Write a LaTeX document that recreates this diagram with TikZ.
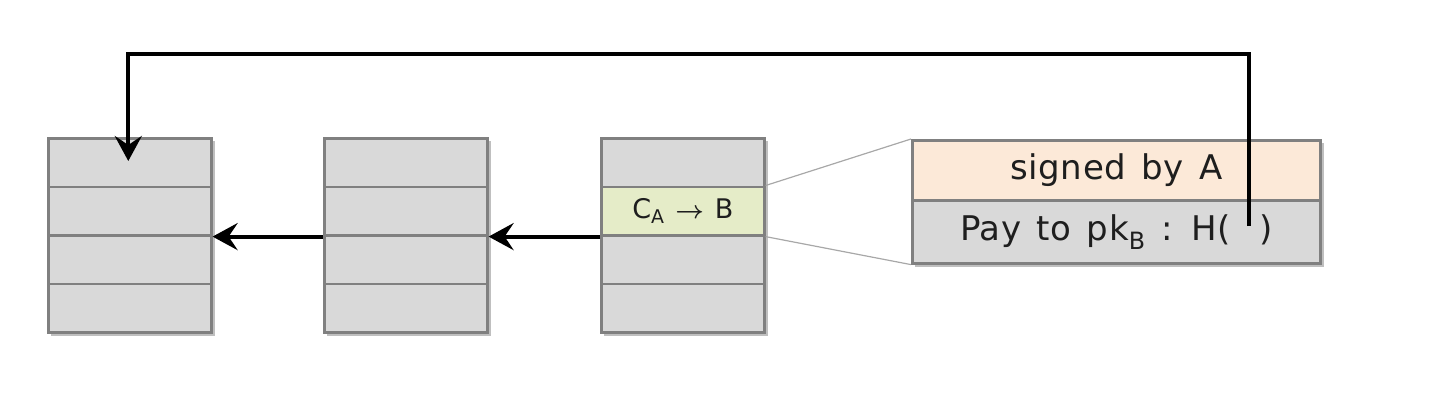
\documentclass[tikz,border=0pt]{standalone}
\usepackage{fontspec}
\setmainfont{DejaVu Sans}
\newfontfamily\trackfam[LetterSpace=2]{DejaVu Sans}
\usetikzlibrary{arrows.meta,calc}
\definecolor{cellgray}{HTML}{D9D9D9}
\definecolor{bordergray}{HTML}{808080}
\definecolor{rowgreen}{HTML}{E5ECC8}
\definecolor{rowpeach}{HTML}{FCE9D8}
\definecolor{linkgray}{HTML}{A8A8A8}
\definecolor{txt}{HTML}{1E1E1E}
\newcommand\bigfnt{\trackfam\fontsize{34}{34}\selectfont\spaceskip 0.45em plus 0.1em\relax}
\newcommand\smallfnt{\trackfam\fontsize{27}{27}\selectfont\spaceskip 0.4em plus 0.1em\relax}
\begin{document}
\begin{tikzpicture}[x=1pt,y=-1pt,
  cell/.style={draw=bordergray, line width=2.6pt, fill=cellgray, minimum width=163pt,
    minimum height=48.5pt, inner sep=0pt, anchor=north west, text=txt},
  blockshadow/.style={fill=black, opacity=0.25, draw=none},
  arr/.style={draw=black, line width=4pt, -{Stealth[length=25pt,width=27pt,inset=9pt]}},
  link/.style={draw=linkgray, line width=1.2pt},
  bigtext/.style={font=\bigfnt},
  smalltext/.style={font=\smallfnt}
]
\useasboundingbox (0,0) rectangle (1438,400);
% shadows
\foreach \x in {47,323,600} {
  \fill[blockshadow] (\x+4,137+4) rectangle (\x+163+5,331+5);
}
\fill[blockshadow] (911+4,139+4) rectangle (1319+5,262+5);
% blocks
\foreach \b/\x in {1/47,2/323,3/600} {
  \foreach \i in {1,...,4} {
    \node[cell] (b\b r\i) at (\x,{137+(\i-1)*48.5}) {};
  }
}
\node[cell, fill=rowgreen, smalltext] (b3r2) at (600,185.5)
  {C\textsubscript{A} {\boldmath$\rightarrow$} B};
% detail box
\node[cell, fill=rowpeach, minimum width=408pt, minimum height=60pt, bigtext] (sig) at (911,139)
  {signed by A};
\node[cell, minimum width=408pt, minimum height=63pt, bigtext] (pay) at (911,199)
  {Pay to pk\textsubscript{B} : H(\hspace{28pt})};
% zoom lines
\draw[link] (b3r2.north east) -- (sig.north west);
\draw[link] (b3r2.south east) -- (pay.south west);
% chain arrows
\draw[arr] (b3r2.south west) -- (b2r2.south east);
\draw[arr] (b2r2.south west) -- (b1r2.south east);
% hash pointer arrow
\coordinate (src) at (1249,226);
\coordinate (dst) at ($(b1r1.north)+(-1.5,24)$);
\draw[arr, line join=miter] (src) -- (1249,54) -| (dst);
\end{tikzpicture}
\end{document}
